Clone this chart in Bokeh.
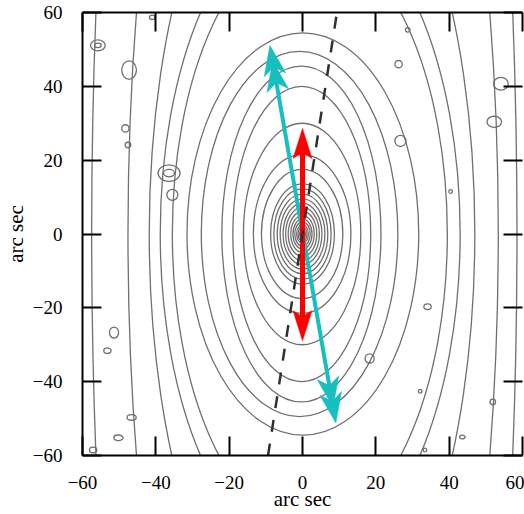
import numpy as np
from bokeh.plotting import figure
from bokeh.models import Range1d, LinearAxis
from bokeh.embed import file_html
from bokeh.resources import INLINE

# ---------------- data ----------------
ticks = [-60, -40, -20, 0, 20, 40, 60]
tick_labels = {-60: "\u221260", -40: "\u221240", -20: "\u221220", 0: "0", 20: "20", 40: "40", 60: "60"}
axis_title = "arc sec"

# isophote contours: centre x, semi-minor (x) axis, semi-major (y) axis
iso_xc = [0, 0, 0, 0, 0, 0, 0, 0, 0, 0, 0, 0, 0, 0,
          -0.1, -0.1, -0.1, -0.2, -0.3, -0.8, 0.1, 2.0, 2.1, 2.6, 2.9, 0.5]
iso_b = [0.4, 0.8, 1.2, 1.6, 2.1, 2.6, 3.2, 3.9, 4.6, 5.3, 6.1, 6.9, 7.8, 8.7,
         11.1, 13.3, 16.0, 18.8, 21.7, 26.8, 31.6, 37.5, 40.9, 44.4, 50.5, 58.0]
iso_a = [0.65, 1.3, 1.9, 2.5, 3.3, 4.1, 5.0, 6.1, 7.2, 8.3, 9.5, 10.8, 12.2, 13.6,
         17.5, 21.5, 30.0, 40.0, 45.5, 49.5, 54.5, 80.0, 88.0, 118.0, 200.0, 300.0]

# small closed noise contours: x, y, width, height
blob_x = [-55.8, -55.8, -47.3, -48.3, -47.6, -36.4, -36.4, -35.5, -41.0, 26.2, 28.7, 26.7,
          40.4, 52.3, 54.1, 18.3, 34.1, 32.1, 51.9, 43.6, 33.4, -51.4, -53.2, -46.6, -50.2, -57.1]
blob_y = [51.1, 51.1, 44.4, 28.6, 24.1, 16.5, 16.5, 10.6, 58.7, 46.0, 55.3, 25.2,
          11.5, 30.4, 40.7, -33.7, -19.7, -42.6, -45.5, -55.0, -58.5, -26.7, -31.6, -49.7, -55.2, -58.5]
blob_w = [4.0, 1.8, 4.0, 2.0, 1.5, 6.0, 3.0, 3.0, 1.5, 2.0, 1.2, 3.0,
          1.0, 4.0, 4.0, 2.5, 2.0, 1.0, 1.5, 1.5, 1.0, 2.5, 2.0, 2.5, 2.5, 2.0]
blob_h = [3.0, 1.2, 5.0, 2.0, 1.5, 4.5, 2.0, 3.0, 1.2, 2.0, 1.2, 3.0,
          1.0, 3.0, 3.5, 2.5, 1.5, 1.0, 1.5, 1.0, 1.0, 3.0, 1.5, 1.5, 1.5, 1.5]

# arrows (tips) and dashed axis line
red_x = [0.0, 0.0]
red_y = [-28.9, 28.6]
cyan_x = [-8.9, 9.1]
cyan_y = [51.1, -51.2]
dash_x = [-9.4, 9.4]
dash_y = [-60.0, 60.0]

# ---------------- figure ----------------
W, H = 524, 514
L_B, T_B, B_B, R_B = 81, 12, 59, 2
fw, fh = W - L_B - R_B, H - T_B - B_B
sx, sy = fw / 120.0, fh / 120.0

p = figure(width=W, height=H, output_backend="svg", toolbar_location=None,
           x_range=Range1d(-60, 60), y_range=Range1d(-60, 60),
           min_border_left=L_B, min_border_right=R_B, min_border_top=T_B, min_border_bottom=B_B)
p.grid.visible = False
p.outline_line_color = None
p.background_fill_color = "white"
p.border_fill_color = "white"

gray = "#6f6f6f"
p.ellipse(x=iso_xc, y=[0] * len(iso_xc), width=[2 * b for b in iso_b], height=[2 * a for a in iso_a],
          fill_color=None, line_color=gray, line_width=1.3)
p.ellipse(x=blob_x, y=blob_y, width=blob_w, height=blob_h,
          fill_color=None, line_color=gray, line_width=1.3)


def head(tx, ty, ox, oy, L, Wd, notch, back=0.0):
    dx, dy = (tx - ox) * sx, (ty - oy) * sy
    n = np.hypot(dx, dy)
    ux, uy = dx / n, dy / n
    px, py = -uy, ux
    tpx, tpy = tx * sx - back * ux, ty * sy - back * uy
    pts = [(tpx, tpy),
           (tpx - L * ux + Wd / 2 * px, tpy - L * uy + Wd / 2 * py),
           (tpx - (L - notch) * ux, tpy - (L - notch) * uy),
           (tpx - L * ux - Wd / 2 * px, tpy - L * uy - Wd / 2 * py)]
    return [q[0] / sx for q in pts], [q[1] / sy for q in pts]


def shaft_end(tx, ty, ox, oy, d):
    dx, dy = (tx - ox) * sx, (ty - oy) * sy
    n = np.hypot(dx, dy)
    return tx - d * dx / n / sx, ty - d * dy / n / sy


cyan = "#17bfbf"
red = "#ff0000"

c0 = shaft_end(cyan_x[0], cyan_y[0], cyan_x[1], cyan_y[1], 20)
c1 = shaft_end(cyan_x[1], cyan_y[1], cyan_x[0], cyan_y[0], 20)
p.line([c0[0], c1[0]], [c0[1], c1[1]], line_color=cyan, line_width=4)
hx, hy = [], []
for i, j in ((0, 1), (1, 0)):
    for back in (0.0, 16.0):
        a_, b_ = head(cyan_x[i], cyan_y[i], cyan_x[j], cyan_y[j], 30, 22, 8, back)
        hx.append(a_)
        hy.append(b_)
p.patches(hx, hy, fill_color=cyan, line_color=cyan, line_width=0.5)

r0 = shaft_end(red_x[0], red_y[0], red_x[1], red_y[1], 20)
r1 = shaft_end(red_x[1], red_y[1], red_x[0], red_y[0], 20)
p.line([r0[0], r1[0]], [r0[1], r1[1]], line_color=red, line_width=5)
hx, hy = [], []
for i, j in ((0, 1), (1, 0)):
    a_, b_ = head(red_x[i], red_y[i], red_x[j], red_y[j], 30, 19, 6)
    hx.append(a_)
    hy.append(b_)
p.patches(hx, hy, fill_color=red, line_color=red, line_width=0.5)

p.line(dash_x, dash_y, line_color="#303030", line_width=2.5, line_dash="12 12")

# ---------------- axes ----------------
font = "Liberation Serif"


def style(ax, labels=True, title_standoff=0):
    ax.ticker = ticks
    ax.axis_line_width = 2
    ax.axis_line_color = "black"
    ax.major_tick_line_width = 2
    ax.major_tick_line_color = "black"
    ax.major_tick_in = 19
    ax.major_tick_out = 0
    ax.minor_tick_line_color = None
    if labels:
        ax.major_label_overrides = tick_labels
        ax.major_label_text_font = font
        ax.major_label_text_font_size = "19px"
        ax.major_label_text_color = "black"
        ax.major_label_standoff = 20
        ax.axis_label = axis_title
        ax.axis_label_text_font = font
        ax.axis_label_text_font_size = "21px"
        ax.axis_label_text_font_style = "normal"
        ax.axis_label_text_color = "black"
        ax.axis_label_standoff = title_standoff
    else:
        ax.major_label_text_font_size = "0px"
        ax.major_label_standoff = 0


style(p.xaxis[0], title_standoff=-5)
style(p.yaxis[0], title_standoff=2)
top = LinearAxis()
style(top, labels=False)
top.major_label_standoff = -4
p.add_layout(top, "above")
right = LinearAxis()
style(right, labels=False)
right.axis_line_alpha = 0.0
p.add_layout(right, "right")

open("out.html", "w").write(file_html(p, INLINE))
